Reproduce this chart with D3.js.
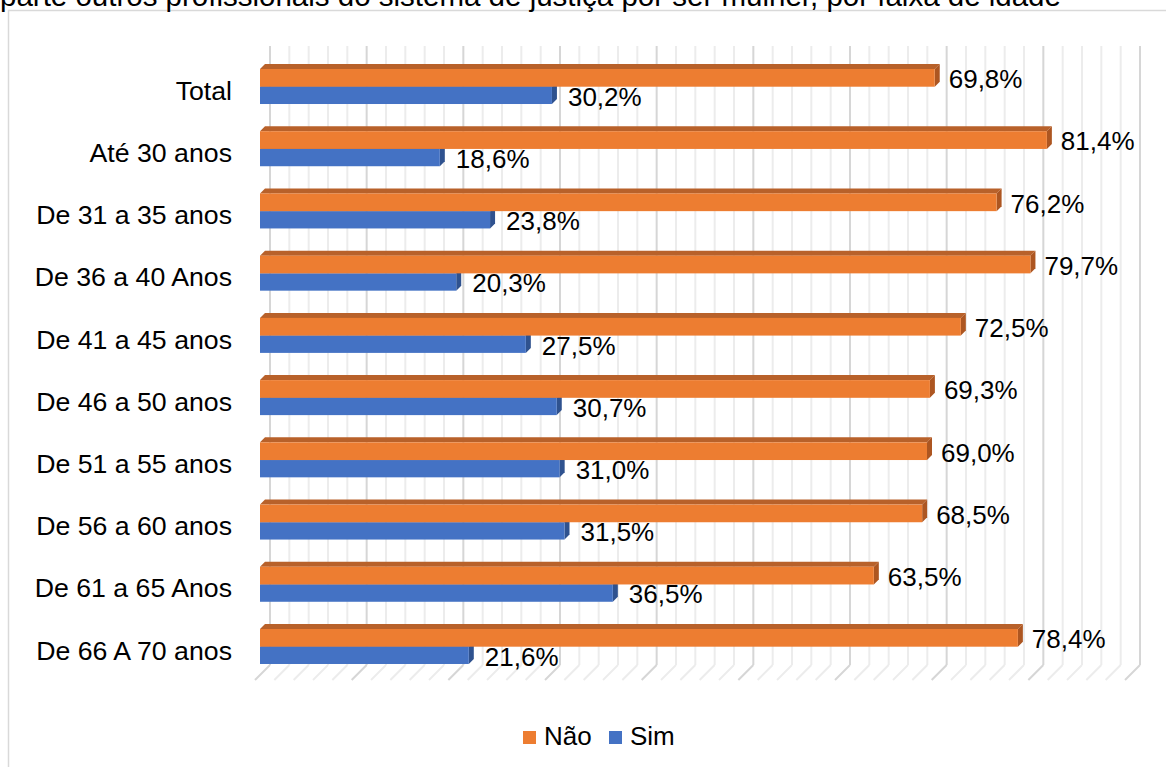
<!DOCTYPE html>
<meta charset="utf-8">
<script src="https://d3js.org/d3.v7.min.js"></script>
<style>
  body { margin: 0; background: #fff; }
  text { font-family: "Liberation Sans", Arial, sans-serif; fill: #000; }
</style>
<body>
<div id="chart"></div>
<script>

// Data
var categories = ["Total", "Até 30 anos", "De 31 a 35 anos", "De 36 a 40 Anos", "De 41 a 45 anos",
                  "De 46 a 50 anos", "De 51 a 55 anos", "De 56 a 60 anos", "De 61 a 65 Anos", "De 66 A 70 anos"];
var nao = [69.8, 81.4, 76.2, 79.7, 72.5, 69.3, 69.0, 68.5, 63.5, 78.4];
var sim = [30.2, 18.6, 23.8, 20.3, 27.5, 30.7, 31.0, 31.5, 36.5, 21.6];
var seriesNames = ["Não", "Sim"];
var gridTicks = d3.range(0, 91, 2);

var W = 1166, H = 767;

var svg = d3.select("#chart").append("svg")
  .attr("width", W).attr("height", H);

// Frame
svg.append("rect")
  .attr("x", 8.5).attr("y", 10.5)
  .attr("width", W + 10).attr("height", H + 10)
  .attr("fill", "none").attr("stroke", "#d9d9d9").attr("stroke-width", 1.5);

// Title (cut at top, as in the source)
svg.append("text")
  .attr("x", 0).attr("y", 6)
  .style("font-size", "29.5px")
  .text("parte outros profissionais do sistema de justiça por ser mulher, por faixa de idade");

// Scales
var x = d3.scaleLinear().domain([0, 90]).range([260, 1130]);
var y = d3.scaleBand().domain(categories).range([55.6, 677.8]).padding(0);

var wallTop = 46, wallBottom = 665, depth = 10, floorD = 15;

// Back wall grid + floor diagonals
var grid = svg.append("g");
gridTicks.forEach(function(t) {
  var major = t % 10 === 0;
  var xb = x(t) + depth;
  grid.append("line")
    .attr("x1", xb).attr("x2", xb)
    .attr("y1", wallTop).attr("y2", wallBottom)
    .attr("stroke", major ? "#d6d6d6" : "#ececec").attr("stroke-width", 2);
  grid.append("line")
    .attr("x1", xb).attr("y1", wallBottom)
    .attr("x2", xb - floorD).attr("y2", wallBottom + floorD)
    .attr("stroke", major ? "#d6d6d6" : "#ececec").attr("stroke-width", 2);
});

// 3D bar helper
var d = 5;
function bar3d(g, x0, x1, y0, y1, cFront, cTop, cSide) {
  g.append("path")
    .attr("d", "M" + x0 + "," + y0 + "L" + (x0 + d) + "," + (y0 - d) + "L" + (x1 + d) + "," + (y0 - d) + "L" + x1 + "," + y0 + "Z")
    .attr("fill", cTop);
  g.append("path")
    .attr("d", "M" + x1 + "," + y0 + "L" + (x1 + d) + "," + (y0 - d) + "L" + (x1 + d) + "," + (y1 - d) + "L" + x1 + "," + y1 + "Z")
    .attr("fill", cSide);
  g.append("rect")
    .attr("x", x0).attr("y", y0)
    .attr("width", x1 - x0).attr("height", y1 - y0)
    .attr("fill", cFront);
}

var bars = svg.append("g");
categories.forEach(function(c, i) {
  var yc = y(c) + y.bandwidth() / 2;
  // Sim (blue) below, drawn first
  bar3d(bars, x(0), x(sim[i]), yc, yc + 17.3, "#4472c4", "#345a9e", "#2f528f");
  // Não (orange) above
  bar3d(bars, x(0), x(nao[i]), yc - 17.7, yc, "#ed7d31", "#b8612a", "#ad5621");

  bars.append("text")
    .attr("x", x(nao[i]) + 14).attr("y", yc + 1.5)
    .style("font-size", "26px")
    .text(d3.format(".1f")(nao[i]).replace(".", ",") + "%");
  bars.append("text")
    .attr("x", x(sim[i]) + 16).attr("y", yc + 19)
    .style("font-size", "26px")
    .text(d3.format(".1f")(sim[i]).replace(".", ",") + "%");
});

// Category labels
svg.append("g").selectAll("text")
  .data(categories).enter().append("text")
  .attr("x", 232)
  .attr("y", function(c) { return y(c) + y.bandwidth() / 2 + 13; })
  .attr("text-anchor", "end")
  .style("font-size", "26.7px")
  .text(function(c) { return c; });

// Legend
var legendColors = ["#ed7d31", "#4472c4"];
var legendX = [523, 609];
var legend = svg.append("g");
seriesNames.forEach(function(s, i) {
  legend.append("rect")
    .attr("x", legendX[i]).attr("y", 731)
    .attr("width", 13).attr("height", 13)
    .attr("fill", legendColors[i]);
  legend.append("text")
    .attr("x", legendX[i] + 21).attr("y", 745)
    .style("font-size", "26px")
    .text(s);
});

</script>
</body>
